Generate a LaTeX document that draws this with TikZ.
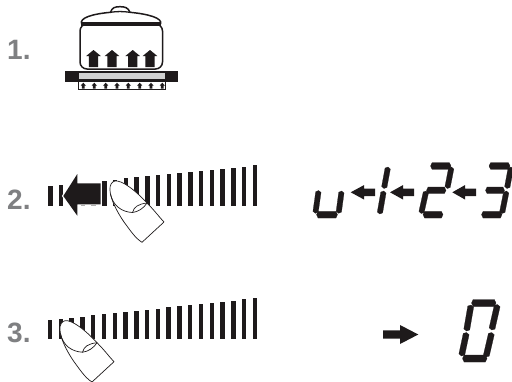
\documentclass[tikz,border=0pt]{standalone}
\usepackage{fontspec}
\setmainfont{Liberation Sans}
\definecolor{ink}{HTML}{1E1A1B}
\definecolor{numgray}{HTML}{7F8082}
\tikzset{
  lbl/.style={font=\fontsize{28}{28}\selectfont\bfseries,text=numgray,inner sep=0pt,anchor=base west},
  potline/.style={draw=ink,line width=1.5pt,fill=white},
  fingerline/.style={draw=ink,line width=0.7pt,line join=round},
  seg/.style={fill=ink,draw=ink,line width=0.2pt,line join=round}
}
% upward arrow: centre x, bottom y, head half width, shaft half width, height, head height
\newcommand{\upa}[6]{\fill[ink] (#1-#4,#2) -- (#1-#4,#2-#5+#6) -- (#1-#3,#2-#5+#6) -- (#1,#2-#5) -- (#1+#3,#2-#5+#6) -- (#1+#4,#2-#5+#6) -- (#1+#4,#2) -- cycle;}
% horizontal arrow: tip x, y, head base x, tail x, head half height, shaft half height
\newcommand{\hza}[6]{\fill[ink] (#1,#2) -- (#3,#2-#5) -- (#3,#2-#6) -- (#4,#2-#6) -- (#4,#2+#6) -- (#3,#2+#6) -- (#3,#2+#5) -- cycle;}
% LCD segment with pointed ends
\newcommand{\lcd}[5]{%
  \pgfmathsetmacro{\sl}{veclen(#3-#1,#4-#2)}
  \pgfmathsetmacro{\ux}{(#3-#1)/\sl}
  \pgfmathsetmacro{\uy}{(#4-#2)/\sl}
  \pgfmathsetmacro{\hw}{#5/2}
  \fill[seg] (#1,#2) -- ({#1+1.6*\ux-\hw*\uy},{#2+1.6*\uy+\hw*\ux}) -- ({#3-1.6*\ux-\hw*\uy},{#4-1.6*\uy+\hw*\ux}) -- (#3,#4) -- ({#3-1.6*\ux+\hw*\uy},{#4-1.6*\uy-\hw*\ux}) -- ({#1+1.6*\ux+\hw*\uy},{#2+1.6*\uy-\hw*\ux}) -- cycle;}
\newcommand{\fingerpath}{
  \filldraw[fill=white,fingerline]
    (115,181) .. controls (122,180) and (135,190) .. (147,203)
    .. controls (155,211) and (160,218) .. (164,222)
    -- (142,242.3)
    .. controls (135,238) and (130,230) .. (124,222)
    .. controls (117,212) and (110,198) .. (110,190)
    .. controls (109.5,185) and (112,181.5) .. (115,181) -- cycle;
  \draw[fingerline] (110.5,194) .. controls (113,206) and (122,212) .. (132.5,212.5)
    .. controls (138,212) and (144,208) .. (147,203);
  \draw[fingerline] (132.5,212.5) .. controls (134,207) and (138,204) .. (147,203);
}
\begin{document}
\begin{tikzpicture}[x=1pt,y=-1pt]
\useasboundingbox (0,0) rectangle (512,381);
% labels
\node[lbl] (n1) at (7,59) {1.};
\node[lbl] (n2) at (7,209) {2.};
\node[lbl] (n3) at (7,342) {3.};
% pot
\draw[potline,rounded corners=7pt] (80,24) -- (162.5,24) -- (162.5,69) -- (80,69) -- cycle;
\draw[potline] (81.7,24) .. controls (79,18) and (92,14) .. (110.5,12.3)
  .. controls (112,7.5) and (115,6.7) .. (120,6.7) .. controls (125,6.7) and (128,7.5) .. (130,12.3)
  .. controls (148,14) and (163,18) .. (160.5,24);
\draw[ink,line width=1.3pt] (110.5,12.3) .. controls (118,11.3) and (122,11.3) .. (130,12.3);
\fill[ink] (81,22.3) rectangle (161,26.3);
\upa{93.5}{67}{7.3}{4.7}{17}{6}
\upa{112}{67}{7.3}{4.7}{17}{6}
\upa{132.7}{67}{7.3}{4.7}{17}{6}
\upa{150}{67}{7.3}{4.7}{17}{6}
% hob
\fill[ink] (64.5,70.7) rectangle (177.5,81.7);
\fill[black!18] (78.5,73) rectangle (165,79);
\draw[ink,line width=0.6pt] (78,81.7) rectangle (165.5,89);
\foreach \x in {83.3,94.3,105.7,117,128.3,139.7,151,162.3}{\upa{\x}{88.7}{2.7}{1.4}{6}{3}}
% bars row 2
\foreach \i in {0,...,19}{
  \pgfmathsetmacro{\bx}{50.5+\i*10.76}
  \pgfmathsetmacro{\by}{186-\i*1.08}
  \fill[ink] (\bx-2.2,\by) rectangle (\bx+2.2,206);
}
\draw[white,line width=2.4pt,line join=miter,fill=ink] (63.3,196) -- (77.3,174) -- (77.3,183.3) -- (100.7,183.3) -- (100.7,204.3) -- (77.3,204.3) -- (77.3,215.7) -- cycle;
\fill[ink] (63.3,196) -- (77.3,174) -- (77.3,183.3) -- (100.7,183.3) -- (100.7,204.3) -- (77.3,204.3) -- (77.3,215.7) -- cycle;
\fingerpath
% LCD row 2: u
\lcd{318.6}{190.5}{315.4}{213.3}{5.4}
\lcd{341.6}{191}{338.6}{213.3}{5.4}
\lcd{316.5}{214.7}{337.5}{214.7}{6.6}
% 1
\lcd{388}{167}{384}{188.5}{5.4}
\lcd{383.7}{191}{379.7}{214}{5.4}
% 2
\lcd{430.5}{166}{451}{166}{6.6}
\lcd{451.5}{167}{447.3}{188.5}{5.4}
\lcd{426.5}{190.3}{446}{190.3}{6.6}
\lcd{426.2}{191}{421.2}{213.5}{5.4}
\lcd{423}{214.7}{443}{214.7}{6.6}
% 3
\lcd{489}{166}{510}{166}{6.6}
\lcd{511}{167}{507}{188.5}{5.4}
\lcd{485.5}{190.3}{504.5}{190.3}{6.6}
\lcd{506.5}{191}{502}{213.5}{5.4}
\lcd{481.5}{214.7}{502}{214.7}{6.6}
% arrows row 2
\hza{350.7}{192.3}{364}{375}{7.2}{3.7}
\hza{390}{192.3}{403}{414}{7.2}{3.7}
\hza{452.3}{192.3}{465}{476}{7.2}{3.7}
% bars row 3
\foreach \i in {0,...,19}{
  \pgfmathsetmacro{\bx}{50+\i*10.79}
  \pgfmathsetmacro{\by}{320-\i*1.145}
  \fill[ink] (\bx-2.2,\by) rectangle (\bx+2.2,339);
}
\begin{scope}[shift={(-50,139.7)}]\fingerpath\end{scope}
% right arrow row 3
\hza{418.3}{334.5}{400}{383}{9.5}{4.2}
% LCD row 3: 0
\lcd{471.5}{303}{496}{303}{7}
\lcd{471}{305}{466.5}{331}{6}
\lcd{466.5}{332.5}{461.5}{356}{6}
\lcd{497.5}{304.5}{491.7}{330}{6}
\lcd{491.7}{332.5}{486}{357}{6}
\lcd{462.5}{358.5}{487}{358.5}{7}
\end{tikzpicture}
\end{document}
